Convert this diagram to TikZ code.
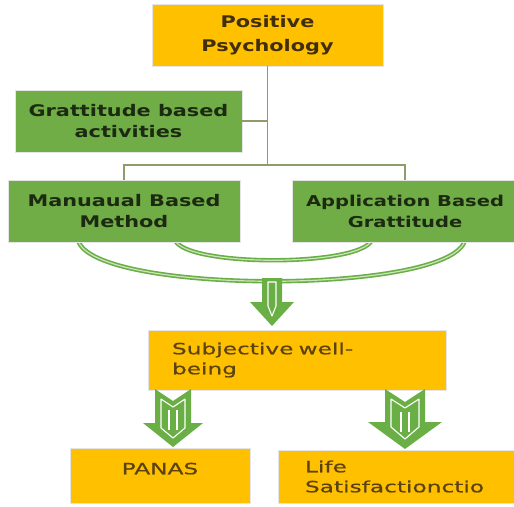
\documentclass[tikz,border=0pt]{standalone}
\usepackage{fontspec}
\newfontfamily\boldboxfont{DejaVu Sans}[FakeStretch=1.3]
\newfontfamily\plainboxfont{DejaVu Sans}[FakeStretch=1.5,FakeBold=0.6]
\usetikzlibrary{backgrounds}
\definecolor{boxorange}{HTML}{FFC000}
\definecolor{boxgreen}{HTML}{70AD47}
\definecolor{linegreen}{HTML}{8E9B6C}
\definecolor{arrowgreen}{HTML}{6AAF45}
\definecolor{darktext}{HTML}{1C2A12}
\definecolor{browntext}{HTML}{5C4210}

\tikzset{
  topbox/.style={fill=boxorange, draw=black!10, line width=0.8pt, align=center,
    text=browntext!70!black, font=\boldboxfont\bfseries\fontsize{16}{24}\selectfont},
  greenbox/.style={fill=boxgreen, draw=black!10, line width=0.8pt, align=center,
    text=darktext, font=\boldboxfont\bfseries\fontsize{16}{21}\selectfont},
  resultbox/.style={fill=boxorange, draw=black!10, line width=0.8pt, align=left,
    text=browntext, font=\plainboxfont\fontsize{15.5}{20}\selectfont},
  link/.style={draw=linegreen, line width=1.5pt},
  band/.style={draw=arrowgreen, line width=1.6pt, double=arrowgreen!35, double distance=1.2pt, fill=white},
  blockarrow/.style={fill=arrowgreen},
  arrowline/.style={draw=white, line width=1.1pt, line join=round}
}

\begin{document}
\begin{tikzpicture}[x=1pt,y=-1pt]
  \useasboundingbox (0,0) rectangle (514,506);
  \clip (0,0) rectangle (514,506);
  % Boxes
  \node[topbox, minimum width=231pt, minimum height=62pt] (pp) at (267.5,35) {Positive\\Psychology};
  \node[greenbox, minimum width=227pt, minimum height=62pt] (gba) at (128.5,121) {Grattitude based\\activities};
  \node[greenbox, minimum width=232pt, minimum height=62pt] (mbm) at (124,211) {Manuaual Based\\Method};
  \node[greenbox, minimum width=226pt, minimum height=62pt, font=\boldboxfont\bfseries\fontsize{15}{21}\selectfont] (apg) at (405,211) {Application Based\\Grattitude};
  \node[resultbox, text width=250pt, inner xsep=24pt, minimum height=60pt] (swb) at (297,360) {Subjective well-\\being};
  \node[resultbox, align=center, text width=170pt, inner xsep=5pt, minimum height=55pt, text depth=14pt] (panas) at (160,475.5) {PANAS};
  \node[resultbox, text width=183pt, inner xsep=27pt, minimum height=53pt] (life) at (396.5,476.5) {Life\\Satisfactionctio};
  % Connectors
  \coordinate (split) at (pp.south |- 0,165);
  \draw[link] (pp.south) -- (split);
  \draw[link] (gba.east) -- (gba.east -| pp.south);
  \draw[link] (mbm.north) |- (split) -| (apg.north);
  % Curved band under the two methods
  \begin{scope}[on background layer]
    \draw[band] (78,240) .. controls (92,295) and (452,295) .. (465,240)
      -- (372,240) .. controls (360,267) and (186,267) .. (175,240) -- cycle;
  \end{scope}
  % Arrow down to subjective well-being
  \fill[blockarrow] (262,278) -- (282,278) -- (282,302) -- (294,302) -- (272,326)
    -- (250,302) -- (262,302) -- cycle;
  \draw[arrowline] (268,282) -- (276,282) -- (276,306) -- (272,316) -- (268,306) -- cycle;
  % Arrows down to the two measures
  \fill[blockarrow] (155,389) -- (173,401) -- (191,389) -- (191,423) -- (203,423)
    -- (173,447) -- (143,423) -- (155,423) -- cycle;
  \draw[arrowline] (161,399) -- (173,407) -- (185,399) -- (185,428) -- (173,438)
    -- (161,428) -- cycle;
  \draw[arrowline] (169,410) -- (169,430) (177,410) -- (177,430);
  \fill[blockarrow] (385,389) -- (405,402) -- (425,389) -- (425,422) -- (442,422)
    -- (405,449) -- (368,422) -- (385,422) -- cycle;
  \draw[arrowline] (391,399) -- (405,408) -- (419,399) -- (419,427) -- (405,439)
    -- (391,427) -- cycle;
  \draw[arrowline] (401,412) -- (401,432) (409,412) -- (409,432);
\end{tikzpicture}
\end{document}
